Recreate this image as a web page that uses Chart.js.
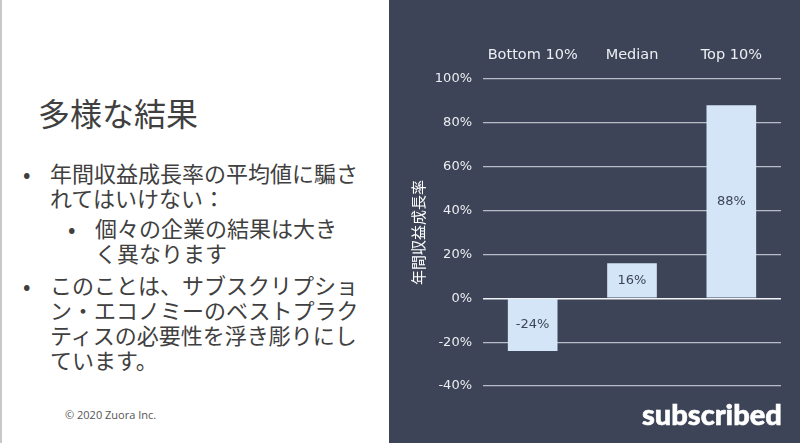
<!DOCTYPE html>
<html><head><meta charset="utf-8">
<script src="https://cdn.jsdelivr.net/npm/chart.js@4/dist/chart.umd.min.js"></script>
<style>
html,body{margin:0;padding:0;width:800px;height:443px;overflow:hidden;background:#fff;}
#left{position:absolute;left:0;top:0;width:389px;height:443px;background:#fff;border-left:2px solid #c8c8c8;box-sizing:border-box;font-family:"Noto Sans CJK JP","Noto Sans",sans-serif;color:#404040;}
#right{position:absolute;left:389px;top:0;width:411px;height:443px;background:#3d4457;}
.t{position:absolute;white-space:nowrap;}
#title{left:36px;top:92px;font-size:32px;line-height:40px;}
.l1{font-size:22px;line-height:25px;}
#copy{position:absolute;left:63px;top:407px;font-family:"Open Sans","DejaVu Sans",sans-serif;font-size:11px;color:#555;}
#logo{position:absolute;left:642px;top:396px;font-family:Lato,"DejaVu Sans",sans-serif;font-weight:900;font-size:29px;color:#fff;letter-spacing:0px;-webkit-text-stroke:0.6px #fff;}
canvas{position:absolute;left:0;top:0;}
</style></head>
<body>
<div id="left">
  <div class="t" id="title">多様な結果</div>
  <div class="t l1" style="left:21px;top:160px;">•</div>
  <div class="t l1" style="left:48px;top:160px;">年間収益成長率の平均値に騙さ<br>れてはいけない：</div>
  <div class="t l1" style="left:66px;top:215px;">•</div>
  <div class="t l1" style="left:93px;top:215px;">個々の企業の結果は大き<br>く異なります</div>
  <div class="t l1" style="left:21px;top:272px;">•</div>
  <div class="t l1" style="left:48px;top:272px;">このことは、サブスクリプショ<br>ン・エコノミーのベストプラク<br>ティスの必要性を浮き彫りにし<br>ています。</div>
  <div id="copy">© 2020 Zuora Inc.</div>
</div>
<div id="right"><canvas id="c" width="411" height="443"></canvas></div>
<div id="logo">subscribed</div>
<script>
const categories = ["Bottom 10%", "Median", "Top 10%"];
const growthValues = [-24, 16, 88];
const yTicks = [-40, -20, 0, 20, 40, 60, 80, 100];
const yTitle = "年間収益成長率";

const barLabelPlugin = {
  id: 'barLabels',
  afterDatasetsDraw(chart) {
    const ctx = chart.ctx;
    const meta = chart.getDatasetMeta(0);
    ctx.save();
    ctx.font = '13px "DejaVu Sans", sans-serif';
    ctx.fillStyle = '#3d4457';
    ctx.textAlign = 'center';
    ctx.textBaseline = 'middle';
    meta.data.forEach((bar, i) => {
      const y = (bar.y + bar.base) / 2;
      ctx.fillText(growthValues[i] + '%', bar.x, y);
    });
    ctx.restore();
  }
};

new Chart(document.getElementById('c'), {
  type: 'bar',
  data: {
    labels: categories,
    datasets: [{
      data: growthValues,
      backgroundColor: '#d3e5f6',
      borderWidth: 0,
      barPercentage: 0.5,
      categoryPercentage: 1.0
    }]
  },
  options: {
    responsive: false,
    animation: false,
    layout: { padding: { left: 20, right: 19, top: 0, bottom: 57 } },
    plugins: { legend: { display: false }, tooltip: { enabled: false } },
    scales: {
      x: {
        position: 'top',
        grid: { display: false, drawTicks: false },
        border: { display: false },
        ticks: { color: '#eceef2', font: { family: '"DejaVu Sans", sans-serif', size: 14.5 }, padding: 15 },
        afterFit(scale) { scale.height = 79; }
      },
      y: {
        min: -40, max: 100,
        afterBuildTicks(scale) { scale.ticks = yTicks.map(v => ({ value: v })); },
        grid: {
          drawTicks: false,
          color: (c) => c.tick && c.tick.value === 0 ? '#f2f3f5' : '#b9bdc6',
          lineWidth: (c) => c.tick && c.tick.value === 0 ? 1.5 : 1.2
        },
        border: { display: false },
        ticks: {
          color: '#eceef2',
          font: { family: '"DejaVu Sans", sans-serif', size: 13 },
          padding: 11,
          callback: (v) => v + '%'
        },
        title: {
          display: true, text: yTitle, color: '#ffffff',
          font: { family: '"Noto Sans CJK JP", sans-serif', size: 15 },
          padding: 0
        },
        afterFit(scale) { scale.width = 74; }
      }
    }
  },
  plugins: [barLabelPlugin]
});
</script>
</body></html>
